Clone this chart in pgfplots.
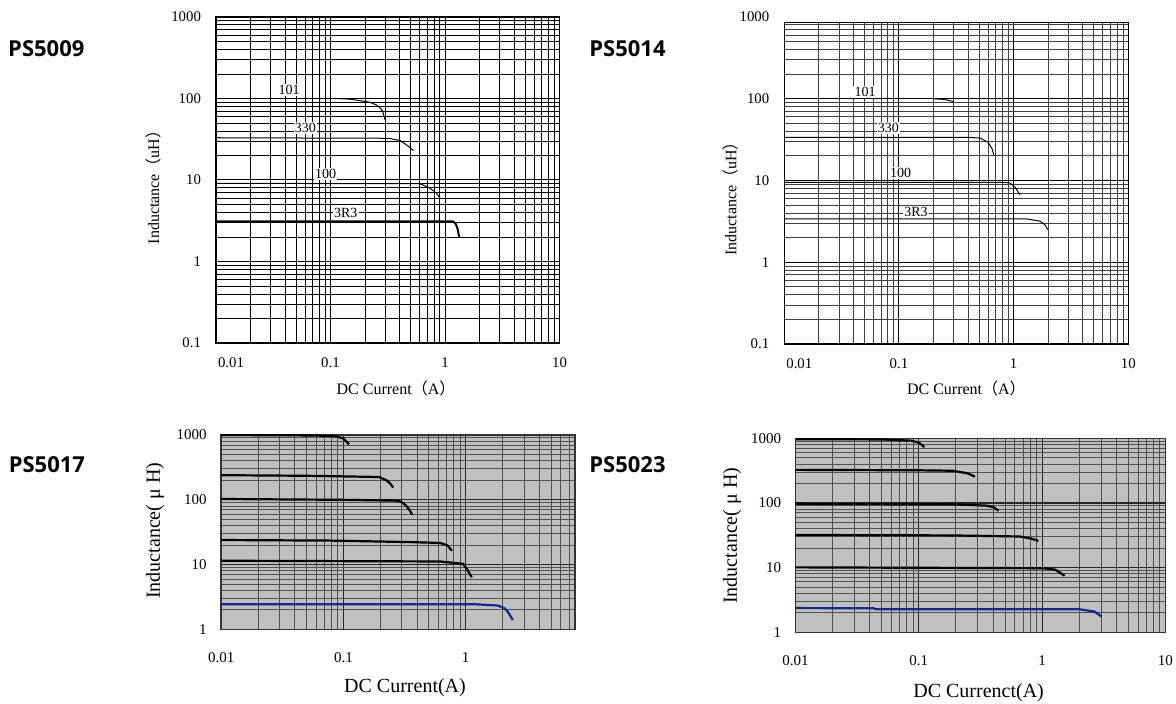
\documentclass[border=0pt]{standalone}
\usepackage{fontspec}
\setmainfont{Liberation Serif}
\newfontfamily\psfont{Open Sans}
\newfontfamily\cjk{Noto Sans CJK SC}
\usepackage{pgfplots}
\pgfplotsset{compat=1.18}

\definecolor{panelgray}{RGB}{192,192,192}
\definecolor{gridgray}{RGB}{80,80,80}
\definecolor{curveblue}{RGB}{20,40,135}

\newcommand{\tickfont}{\fontsize{7.4}{8}\selectfont}
\newcommand{\lblfont}{\fontsize{8}{9}\selectfont}
\newcommand{\bigfont}{\fontsize{10}{12}\selectfont}
\newcommand{\psfnt}{\psfont\bfseries\fontsize{11}{13}\selectfont}

\pgfplotsset{
  lgsheet/.style={
    scale only axis, anchor=north west,
    major tick length=0pt, minor tick length=0pt,
    grid=both,
    xmin=0.01, xmax=10,
    xtick={0.01,0.1,1,10},
    minor xtick={0.02,0.03,0.04,0.05,0.06,0.07,0.08,0.09,
                 0.2,0.3,0.4,0.5,0.6,0.7,0.8,0.9,
                 2,3,4,5,6,7,8,9},
    minor ytick={0.2,0.3,0.4,0.5,0.6,0.7,0.8,0.9,
                 2,3,4,5,6,7,8,9,20,30,40,50,60,70,80,90,
                 200,300,400,500,600,700,800,900},
  },
  lgtop/.style={
    lgsheet,
    xticklabels={\hspace*{15pt}0.01,0.1,1,10},
    ymin=0.1, ymax=1000,
    ytick={0.1,1,10,100,1000}, yticklabels={0.1,1,10,100,1000},
    tick label style={font=\tickfont},
    yticklabel style={xshift=-4pt},
    xticklabel style={yshift=-3.7pt},
    axis line style={black, line width=0.6pt},
    major grid style={black, line width=0.5pt},
    minor grid style={black, line width=0.4pt},
  },
  lgbottom/.style={
    lgsheet,
    xticklabels={0.01,0.1,1,10},
    ymin=1, ymax=1000,
    ytick={1,10,100,1000}, yticklabels={1,10,100,1000},
    tick label style={font=\fontsize{7.5}{9}\selectfont},
    yticklabel style={xshift=-3.7pt},
    xticklabel style={yshift=-8pt},
    axis background/.style={fill=panelgray},
    axis line style={black!80, line width=0.7pt},
    major grid style={black!85, line width=0.6pt},
    minor grid style={gridgray, line width=0.5pt},
  },
  tcrv/.style={black, line width=0.5pt, mark=none},
  bcrv/.style={black, line width=1.1pt, mark=none},
}

\begin{document}
\begin{tikzpicture}
\useasboundingbox (0,0) rectangle (588pt,-352pt);

% ---------------- PS5009 ----------------
\begin{axis}[xmode=log, ymode=log, lgtop, at={(108pt,-8.5pt)}, width=171.75pt, height=163pt]
  % 101
  \addplot[tcrv] coordinates {(0.113,100) (0.15,98) (0.19,93) (0.22,90) (0.253,83) (0.275,75) (0.286,69) (0.299,55)};
  % 330
  \addplot[tcrv] coordinates {(0.01,33) (0.32,32.5) (0.405,30.5) (0.478,26) (0.53,23)};
  % 100
  \addplot[tcrv] coordinates {(0.01,9.1) (0.6,9.0) (0.64,8.7) (0.72,8.1) (0.79,7.4) (0.85,6.8) (0.89,6.2)};
  % 3R3
  \addplot[tcrv, line width=1pt] coordinates {(0.01,3.1) (1.18,3.1) (1.24,2.9) (1.29,2.5) (1.33,2.0)};
\end{axis}

% ---------------- PS5014 ----------------
\begin{axis}[xmode=log, ymode=log, lgtop, at={(392.15pt,-11.35pt)}, width=172pt, height=160.65pt,
  ymax=850, ytick={0.1,1,10,100}, yticklabels={0.1,1,10,100},
  minor grid style={black!75, line width=0.4pt}]
  % 101
  \addplot[tcrv] coordinates {(0.055,100) (0.115,100)};
  \addplot[tcrv] coordinates {(0.193,100) (0.25,98) (0.3,92)};
  % 330
  \addplot[tcrv] coordinates {(0.01,33.6) (0.42,33.6) (0.51,33) (0.6,29.2) (0.65,24.2) (0.67,20.6)};
  % 100
  \addplot[tcrv] coordinates {(0.01,9.5) (0.8,9.5) (0.93,9.3) (1.03,8.3) (1.135,6.65)};
  % 3R3
  \addplot[tcrv] coordinates {(0.01,3.4) (1.3,3.39) (1.69,3.18) (1.87,2.89) (1.98,2.51)};
\end{axis}

% ---------------- PS5017 ----------------
\begin{axis}[xmode=log, ymode=log, lgbottom, at={(110.6pt,-217.5pt)}, width=176.8pt, height=97.25pt, xmax=7.8]
  \addplot[bcrv] coordinates {(0.01,1000) (0.05,985) (0.08,970) (0.09,940) (0.1,880) (0.105,800) (0.111,720)};
  \addplot[bcrv] coordinates {(0.01,240) (0.05,235) (0.1,230) (0.195,225) (0.225,200) (0.24,180) (0.255,155)};
  \addplot[bcrv] coordinates {(0.01,103) (0.1,100) (0.28,97) (0.3,92) (0.324,82) (0.35,68) (0.365,59)};
  \addplot[bcrv] coordinates {(0.01,24) (0.08,23.5) (0.35,22.3) (0.62,21.6) (0.71,19.8) (0.77,16.4)};
  \addplot[bcrv] coordinates {(0.01,11.5) (0.62,11.2) (0.95,10.3) (1.02,8.6) (1.12,6.4)};
  \addplot[bcrv, curveblue] coordinates {(0.01,2.45) (1.18,2.45) (1.82,2.35) (2.05,2.15) (2.18,1.95) (2.43,1.4)};
\end{axis}

% ---------------- PS5023 ----------------
\begin{axis}[xmode=log, ymode=log, lgbottom, at={(397.75pt,-219.15pt)}, width=185pt, height=97pt]
  \addplot[bcrv] coordinates {(0.01,970) (0.05,960) (0.087,920) (0.1,855) (0.111,730)};
  \addplot[bcrv] coordinates {(0.01,325) (0.1,320) (0.187,315) (0.248,288) (0.285,255)};
  \addplot[bcrv] coordinates {(0.01,97) (0.2,95) (0.352,91) (0.405,86) (0.443,76)};
  \addplot[bcrv] coordinates {(0.01,32) (0.18,31.5) (0.658,30.3) (0.81,28.2) (0.933,25.9)};
  \addplot[bcrv] coordinates {(0.01,10.1) (1.0,9.8) (1.28,9.3) (1.52,7.5)};
  \addplot[bcrv, curveblue] coordinates {(0.01,2.37) (0.043,2.35) (0.045,2.28) (2.01,2.27) (2.66,2.09) (3.02,1.76)};
\end{axis}

% curve labels
\begin{scope}[every node/.style={fill=white, inner sep=0.6pt, font=\fontsize{7}{8}\selectfont}]
  \node at (144.5pt,-45pt) {101};
  \node at (152.65pt,-64.15pt) {330};
  \node at (162.85pt,-87.15pt) {100};
  \node at (172.85pt,-106.65pt) {3R3};
  \node at (432.5pt,-45.85pt) {101};
  \node at (444.15pt,-64.15pt) {330};
  \node at (450.35pt,-86.65pt) {100};
  \node at (458pt,-105.85pt) {3R3};
\end{scope}

% extra top tick label of PS5014
\node[anchor=east, font=\tickfont] at (388.15pt,-8.35pt) {1000};

% axis titles
\node[rotate=90, font=\lblfont] at (76.5pt,-91.7pt) {Inductance{\cjk（}uH{\cjk）}};
\node[font=\lblfont] at (198pt,-194.2pt) {DC Current{\cjk（}A{\cjk）}};
\node[rotate=90, font=\lblfont] at (365.2pt,-97.5pt) {Inductance{\cjk（}uH{\cjk）}};
\node[font=\lblfont] at (483.2pt,-194.2pt) {DC Current{\cjk（}A{\cjk）}};
\node[rotate=90, font=\bigfont] at (77.5pt,-265.4pt) {Inductance( μ H)};
\node[font=\bigfont] at (202.5pt,-344pt) {DC Current(A)};
\node[rotate=90, font=\bigfont] at (366pt,-267.9pt) {Inductance( μ H)};
\node[font=\bigfont] at (489.3pt,-346.5pt) {DC Currenct(A)};

% panel names
\node[anchor=west, font=\psfnt, inner sep=0pt] at (3.9pt,-24.2pt) {PS5009};
\node[anchor=west, font=\psfnt, inner sep=0pt] at (294.5pt,-24.2pt) {PS5014};
\node[anchor=west, font=\psfnt, inner sep=0pt] at (4.2pt,-232.5pt) {PS5017};
\node[anchor=west, font=\psfnt, inner sep=0pt] at (294.5pt,-232.5pt) {PS5023};
\end{tikzpicture}
\end{document}
